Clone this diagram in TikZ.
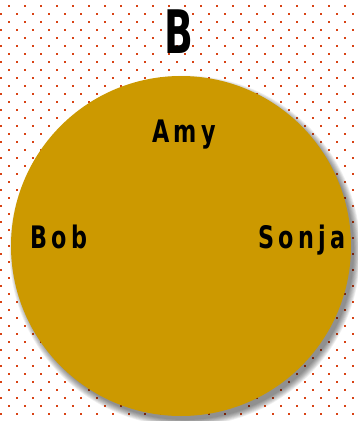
\documentclass[tikz,border=0pt]{standalone}
\usepackage{fontspec}
\newfontfamily\labelfont{DejaVu Sans Condensed}[FakeStretch=0.8,LetterSpace=14]
\newfontfamily\titlefont{DejaVu Sans Condensed}[FakeStretch=0.7]
\usetikzlibrary{positioning}
\definecolor{dotred}{RGB}{216,67,21}
\definecolor{mustard}{RGB}{204,153,0}
\begin{document}
\begin{tikzpicture}[
		x=1pt,y=-1pt,
		dot/.style={fill=dotred},
		person/.style={font=\labelfont\bfseries\fontsize{31}{31}\selectfont,inner sep=0pt,anchor=base},
		settitle/.style={font=\titlefont\bfseries\fontsize{60}{60}\selectfont,inner sep=0pt,anchor=base}
		]
		
		\fill[white] (0,0) rectangle (358,421);
		\useasboundingbox (0,0) rectangle (358,421);
		
		% dotted background
		\foreach \row in {0,...,52}{
			\pgfmathsetmacro{\yy}{6+8*\row}
			\pgfmathsetmacro{\xo}{mod(\row,2)==0 ? 9 : 1}
			\foreach \k in {0,...,22}{
				\fill[dot] (\xo+16*\k-1,\yy-1) rectangle ++(2,2);
			}
		}
		
		% soft shadow
		\foreach \s in {0,...,8}{
			\fill[black,opacity=0.06] (185,251) circle (169+\s*0.8);
		}
		\fill[mustard] (181,246) coordinate (centre) circle (170);
		
		\node [settitle] (set) at (179,53) {B};
		\node [person] (amy) at (184,142) {Amy};
		\node [person] (bob) at (59,248) {Bob};
		\node [person] (sonja) at (302,248) {Sonja};
		
	\end{tikzpicture}
\end{document}
